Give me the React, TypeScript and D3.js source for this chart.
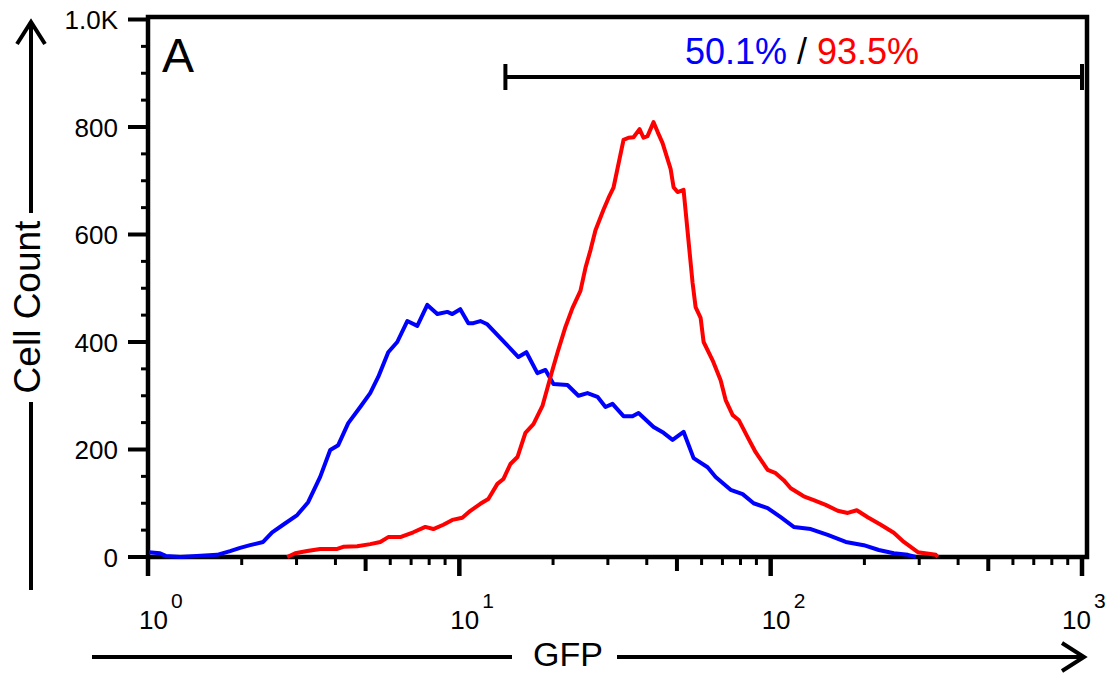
import React from 'react'
import * as d3 from 'd3'

// GFP histogram, two samples (blue / red), log x axis
const blueGfp = [1.007, 1.093, 1.14, 1.27, 1.667, 1.835, 1.976, 2.128, 2.343, 2.505, 2.717, 3.014, 3.269, 3.573, 3.848, 4.083, 4.397, 4.805, 5.173, 5.489, 5.911, 6.318, 6.805, 7.328, 7.891, 8.499, 9.151, 9.496, 10.07, 10.69, 11.09, 11.68, 12.3, 15.48, 16.42, 17.81, 18.91, 20.06, 22.25, 24.13, 25.8, 27.78, 29.48, 31.05, 33.68, 36.0, 37.63, 42.06, 45.29, 48.41, 52.51, 56.55, 62.72, 66.56, 74.36, 81.28, 88.16, 97.8, 107.7, 118.6, 134.5, 152.5, 174.3, 199.1, 222.5, 248.6, 275.7, 292.6]
const blueCount = [9, 7, 2, 0, 4, 11, 17, 22, 28, 46, 60, 78, 102, 149, 199, 208, 249, 279, 305, 335, 381, 400, 439, 430, 469, 452, 456, 452, 461, 435, 435, 439, 433, 372, 381, 342, 348, 322, 320, 300, 305, 298, 279, 285, 262, 262, 268, 242, 231, 218, 233, 184, 167, 149, 125, 117, 100, 91, 74, 56, 52, 41, 28, 22, 13, 7, 4, 0]

const redGfp = [2.8, 2.97, 3.245, 3.573, 4.053, 4.236, 4.699, 5.173, 5.572, 5.911, 6.461, 7.113, 7.776, 8.249, 8.884, 9.496, 10.22, 10.85, 11.68, 12.39, 13.25, 13.85, 14.59, 15.37, 16.3, 17.3, 18.49, 19.91, 20.66, 21.92, 23.08, 24.49, 25.42, 26.38, 27.37, 29.04, 30.14, 31.27, 33.68, 34.95, 36.27, 37.92, 39.04, 40.22, 42.06, 43.33, 44.96, 47.71, 48.77, 50.23, 52.51, 56.13, 57.39, 59.56, 60.9, 65.09, 69.07, 71.69, 75.5, 78.93, 84.33, 89.48, 97.81, 103.8, 110.1, 116.0, 127.7, 137.5, 150.2, 164.2, 176.8, 189.1, 205.0, 225.8, 248.6, 267.8, 297.0, 339.3, 344.4]
const redCount = [0, 7, 11, 15, 15, 19, 20, 24, 28, 37, 37, 46, 56, 52, 60, 69, 73, 86, 99, 108, 136, 145, 173, 186, 231, 247, 281, 348, 380, 428, 463, 495, 538, 571, 608, 646, 668, 687, 776, 780, 781, 796, 780, 783, 809, 791, 770, 722, 688, 679, 683, 510, 465, 445, 400, 366, 329, 292, 264, 255, 223, 195, 162, 156, 143, 128, 113, 106, 97, 86, 82, 87, 74, 60, 45, 28, 9, 4, 0]

const yTicks = [0, 200, 400, 600, 800, 1000]
const yTickLabels = ['0', '200', '400', '600', '800', '1.0K']
const xDecades = [1, 10, 100, 1000]
const xExponents = ['0', '1', '2', '3']
const gateRange = [14.06, 1000]
const gateLabels = ['50.1%', '93.5%']

const W = 1110
const H = 673
const font = "'Liberation Sans', Arial, Helvetica, sans-serif"

const App = () => {
  const left = 148, right = 1087, top = 17, bottom = 557

  const x = d3.scaleLog().domain([1, 1000]).range([left, 1082])
  const y = d3.scaleLinear().domain([0, 1000]).range([bottom, 19.5])

  const line = d3.line<[number, number]>()
    .x(d => x(d[0]))
    .y(d => y(d[1]))

  const bluePts: [number, number][] = blueGfp.map((g, i) => [g, blueCount[i]])
  const redPts: [number, number][] = redGfp.map((g, i) => [g, redCount[i]])

  const yMinor = d3.range(0, 1001, 50).filter(v => !yTicks.includes(v))

  // minor ticks 2..9 per decade, 5 drawn a bit longer
  const xMinor: number[] = []
  xDecades.slice(0, 3).forEach(d => {
    for (let k = 2; k <= 9; k++) xMinor.push(d * k)
  })

  const gy = 77

  return (
    <svg width={W} height={H} style={{ position: 'absolute', left: 0, top: 0, background: '#fff' }} fontFamily={font}>
      {/* frame */}
      <rect x={left} y={top} width={right - left} height={bottom - top} fill="none" stroke="#000" strokeWidth={4.5} />

      {/* y ticks */}
      {yTicks.map((v, i) => (
        <g key={'y' + v}>
          <line x1={128} x2={left} y1={y(v)} y2={y(v)} stroke="#000" strokeWidth={4} />
          <text x={118} y={y(v) + 9.5} fontSize={26} textAnchor="end" fill="#000">{yTickLabels[i]}</text>
        </g>
      ))}
      {yMinor.map(v => (
        <line key={'ym' + v} x1={141} x2={left} y1={y(v)} y2={y(v)} stroke="#000" strokeWidth={3} />
      ))}

      {/* x ticks */}
      {xDecades.map((v, i) => {
        const px = x(v)
        const lx = Math.min(px - 9, 1062)
        return (
          <g key={'x' + v}>
            <line x1={px} x2={px} y1={bottom} y2={576} stroke="#000" strokeWidth={4.5} />
            <text x={lx} y={629} fontSize={26} fill="#000">10</text>
            <text x={lx + 32} y={608} fontSize={21} fill="#000">{xExponents[i]}</text>
          </g>
        )
      })}
      {xMinor.map(v => {
        const isFive = String(v)[0] === '5'
        return (
          <line key={'xm' + v} x1={x(v)} x2={x(v)} y1={bottom} y2={isFive ? 571 : 565}
            stroke="#000" strokeWidth={isFive ? 4 : 3} />
        )
      })}

      {/* histogram lines */}
      <path d={line(bluePts) || ''} fill="none" stroke="#0000ff" strokeWidth={4} strokeLinejoin="round" />
      <path d={line(redPts) || ''} fill="none" stroke="#ff0000" strokeWidth={4} strokeLinejoin="round" />

      {/* gate */}
      <line x1={x(gateRange[0])} x2={x(gateRange[1])} y1={gy} y2={gy} stroke="#000" strokeWidth={4} />
      <line x1={x(gateRange[0])} x2={x(gateRange[0])} y1={gy - 13} y2={gy + 13} stroke="#000" strokeWidth={4} />
      <line x1={x(gateRange[1])} x2={x(gateRange[1])} y1={gy - 13} y2={gy + 13} stroke="#000" strokeWidth={4} />
      <text x={802} y={64} fontSize={36} textAnchor="middle">
        <tspan fill="#0000ff">{gateLabels[0]}</tspan>
        <tspan fill="#000"> / </tspan>
        <tspan fill="#ff0000">{gateLabels[1]}</tspan>
      </text>

      {/* panel letter */}
      <text x={162} y={72} fontSize={48} fill="#000">A</text>

      {/* y axis title with arrow */}
      <line x1={31} x2={31} y1={22} y2={213} stroke="#000" strokeWidth={4} />
      <line x1={31} x2={31} y1={402} y2={590} stroke="#000" strokeWidth={4} />
      <polyline points="17,44 31,22 45,44" fill="none" stroke="#000" strokeWidth={4} />
      <text transform="translate(40,307) rotate(-90)" fontSize={37} textAnchor="middle" fill="#000">Cell Count</text>

      {/* x axis title with arrow */}
      <line x1={92} x2={512} y1={657} y2={657} stroke="#000" strokeWidth={4} />
      <line x1={617} x2={1083} y1={657} y2={657} stroke="#000" strokeWidth={4} />
      <polyline points="1062,643 1084,657 1062,671" fill="none" stroke="#000" strokeWidth={4} />
      <text x={568} y={666} fontSize={34} textAnchor="middle" fill="#000">GFP</text>
    </svg>
  )
}

export default App
